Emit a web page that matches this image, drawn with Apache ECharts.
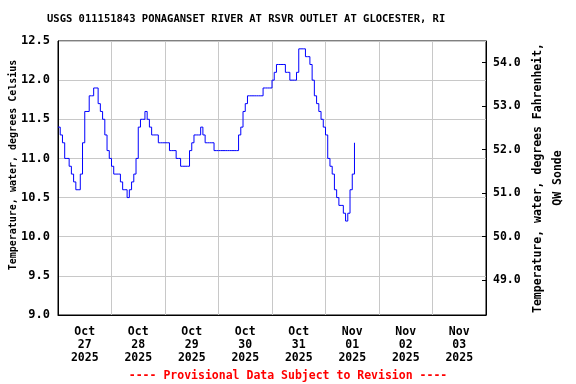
<!DOCTYPE html>
<html><head><meta charset="utf-8">
<script src="https://cdn.jsdelivr.net/npm/echarts@6/dist/echarts.min.js"></script>
<style>html,body{margin:0;padding:0;background:#fff}#c{width:576px;height:384px}</style>
</head><body><div id="c"></div>
<script>
// hours since 2025-10-27 00:00
const hours = [];
for (let h = 0; h <= 133; h++) hours.push(h);
const tempC = [
 11.4,11.3,11.2,11.0,11.0,10.9,10.8,10.7,10.6,10.6,
 10.8,11.2,11.6,11.6,11.8,11.8,11.9,11.9,11.7,11.6,
 11.5,11.3,11.1,11.0,10.9,10.8,10.8,10.8,10.7,10.6,
 10.6,10.5,10.6,10.7,10.8,11.0,11.4,11.5,11.5,11.6,
 11.5,11.4,11.3,11.3,11.3,11.2,11.2,11.2,11.2,11.2,
 11.1,11.1,11.1,11.0,11.0,10.9,10.9,10.9,10.9,11.1,
 11.2,11.3,11.3,11.3,11.4,11.3,11.2,11.2,11.2,11.2,
 11.1,11.1,11.1,11.1,11.1,11.1,11.1,11.1,11.1,11.1,
 11.1,11.3,11.4,11.6,11.7,11.8,11.8,11.8,11.8,11.8,
 11.8,11.8,11.9,11.9,11.9,11.9,12.0,12.1,12.2,12.2,
 12.2,12.2,12.1,12.1,12.0,12.0,12.0,12.1,12.4,12.4,
 12.4,12.3,12.3,12.2,12.0,11.8,11.7,11.6,11.5,11.4,
 11.3,11.0,10.9,10.8,10.6,10.5,10.4,10.4,10.3,10.2,
 10.3,10.6,10.8,11.2
];
const dayLabels = ['Oct\n27\n2025','Oct\n28\n2025','Oct\n29\n2025','Oct\n30\n2025','Oct\n31\n2025','Nov\n01\n2025','Nov\n02\n2025','Nov\n03\n2025'];
const dayCenters = [12,36,60,84,108,132,156,180];
const leftTicks = [9.0,9.5,10.0,10.5,11.0,11.5,12.0,12.5];
const rightTicks = [49,50,51,52,53,54];

const F = 'DejaVu Sans Mono';
const chart = echarts.init(document.getElementById('c'), null, {renderer:'canvas'});
chart.setOption({
  animation:false,
  backgroundColor:'#fff',
  title:{text:'USGS 011151843 PONAGANSET RIVER AT RSVR OUTLET AT GLOCESTER, RI',
    left:42, top:9,
    textStyle:{fontFamily:F,fontWeight:'bold',fontSize:10.5,color:'#000'}},
  graphic:[{type:'text',left:'center',top:370,
    style:{text:'---- Provisional Data Subject to Revision ----',fill:'#ff0000',
      font:'bold 11.5px "DejaVu Sans Mono"'}}],
  grid:{left:58,right:90,top:41,bottom:69,outerBoundsMode:'none',containLabel:false,show:true,borderColor:'#000',borderWidth:1,backgroundColor:'transparent'},
  xAxis:{type:'value',min:0,max:192,interval:24,
    axisLine:{lineStyle:{color:'#000'}},
    axisTick:{show:false},
    splitLine:{show:true,lineStyle:{color:'#c8c8c8',width:1}},
    axisLabel:{customValues:dayCenters,formatter:function(v){const i=dayCenters.indexOf(v);return i>=0?dayLabels[i]:'';},
      fontFamily:F,fontWeight:'bold',fontSize:11.5,color:'#000',lineHeight:13,margin:11}},
  yAxis:[{type:'value',min:9,max:12.5,interval:0.5,
    name:'Temperature, water, degrees Celsius',nameLocation:'middle',nameGap:40,nameMoveOverlap:false,
    nameTextStyle:{fontFamily:F,fontWeight:'bold',fontSize:10,color:'#000',padding:[0,0,0,26]},
    axisLine:{show:true,lineStyle:{color:'#000'}},
    axisTick:{show:false},
    splitLine:{show:true,lineStyle:{color:'#c8c8c8',width:1}},
    axisLabel:{formatter:v=>v.toFixed(1),fontFamily:F,fontWeight:'bold',fontSize:12,color:'#000',margin:8}},
   {type:'value',min:48.2,max:54.5,position:'right',
    name:'Temperature, water, degrees Fahrenheit,\nQW Sonde',nameLocation:'middle',nameGap:42,nameRotate:90,nameMoveOverlap:false,
    nameTextStyle:{fontFamily:F,fontWeight:'bold',fontSize:11.5,color:'#000',lineHeight:20},
    axisLine:{show:true,lineStyle:{color:'#000'}},
    axisTick:{show:true,inside:true,length:4,customValues:rightTicks,lineStyle:{color:'#000'}},
    splitLine:{show:false},
    axisLabel:{customValues:rightTicks,formatter:v=>v.toFixed(1),fontFamily:F,fontWeight:'bold',fontSize:11.5,color:'#000',margin:7}}],
  series:[{type:'line',step:'end',showSymbol:false,symbol:'none',
    data:hours.map((h,i)=>[h,tempC[i]]),
    lineStyle:{color:'#0000ff',width:1},itemStyle:{color:'#0000ff'}}]
});
</script></body></html>
